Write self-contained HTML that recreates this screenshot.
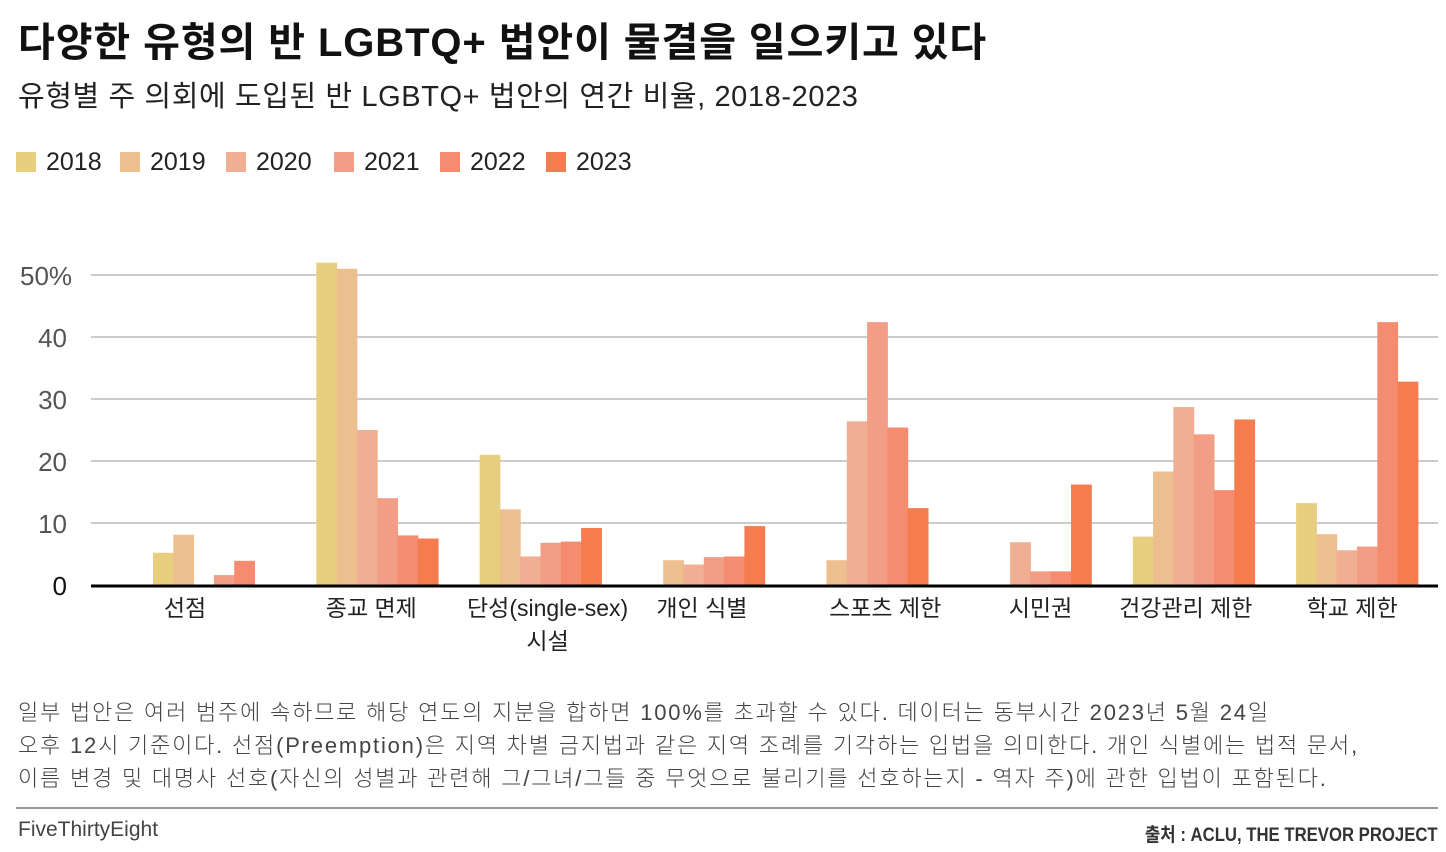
<!DOCTYPE html>
<html><head><meta charset="utf-8">
<style>
html,body{margin:0;padding:0;background:#fff;}
body{width:1446px;height:852px;position:relative;overflow:hidden;font-family:"Liberation Sans","Noto Sans CJK KR",sans-serif;color:#222;}
.abs{position:absolute;white-space:nowrap;}
#title{left:18px;top:10px;font-size:40px;font-weight:bold;color:#111;letter-spacing:0.9px;}
#subtitle{left:18px;top:73px;font-size:29px;color:#222;letter-spacing:0.6px;}
.legend-entry{position:absolute;top:148px;font-size:25px;color:#222;}
.legend-entry span{display:inline-block;width:20px;height:20px;vertical-align:-2px;margin-right:10px;}
#note{left:18px;top:696px;font-size:22px;line-height:33px;color:#444;font-weight:300;white-space:nowrap;letter-spacing:1.8px;}
#rule{left:16px;top:807px;width:1422px;height:2px;background:#999;}
#brand{left:18px;top:818px;font-size:21px;color:#444;}
#source{right:8px;top:820px;font-size:19px;color:#333;font-weight:bold;transform:scaleX(0.88);transform-origin:right center;}
</style></head>
<body>
<div class="abs" id="title">다양한 유형의 반 LGBTQ+ 법안이 물결을 일으키고 있다</div>
<div class="abs" id="subtitle">유형별 주 의회에 도입된 반 LGBTQ+ 법안의 연간 비율, 2018-2023</div>
<div id="legend"></div>
<svg id="chart" width="1446" height="852" style="position:absolute;left:0;top:0"></svg>
<div class="abs" id="note">일부 법안은 여러 범주에 속하므로 해당 연도의 지분을 합하면 100%를 초과할 수 있다. 데이터는 동부시간 2023년 5월 24일<br>오후 12시 기준이다. 선점(Preemption)은 지역 차별 금지법과 같은 지역 조례를 기각하는 입법을 의미한다. 개인 식별에는 법적 문서,<br>이름 변경 및 대명사 선호(자신의 성별과 관련해 그/그녀/그들 중 무엇으로 불리기를 선호하는지 - 역자 주)에 관한 입법이 포함된다.</div>
<div class="abs" id="rule"></div>
<div class="abs" id="brand">FiveThirtyEight</div>
<div class="abs" id="source">출처 : ACLU, THE TREVOR PROJECT</div>
<script>
const categories = ["선점","종교 면제","단성(single-sex)\n시설","개인 식별","스포츠 제한","시민권","건강관리 제한","학교 제한"];
const years = ["2018","2019","2020","2021","2022","2023"];
const v2018 = [5.2,52,21,0,0,0,7.8,13.2];
const v2019 = [8.1,51,12.2,4.0,4.0,0,18.3,8.2];
const v2020 = [0,25,4.6,3.3,26.4,6.9,28.7,5.6];
const v2021 = [1.6,14,6.8,4.5,42.4,2.2,24.3,6.2];
const v2022 = [3.9,8,7,4.6,25.4,2.2,15.3,42.4];
const v2023 = [0,7.5,9.2,9.5,12.4,16.2,26.7,32.8];
const yTicks = [0,10,20,30,40,50];
const yTickLabels = ["0","10","20","30","40","50%"];

const series=[v2018,v2019,v2020,v2021,v2022,v2023];
const colors=["#e8cf7f","#edbe8e","#f0ae92","#f29e87","#f58b6f","#f57c4e"];
const svg=document.getElementById('chart');
const NS='http://www.w3.org/2000/svg';
const x0=91,x1=1438,yBase=585,pxPerUnit=6.2;
const groupStart=153,groupStep=163.3,barW=20.3;
const labelOffset=[32,55,68,59,79,71,53,56];
const y=v=>yBase-v*pxPerUnit;
const xb=(g,s)=>groupStart+g*groupStep+s*barW;
function el(t,a){const e=document.createElementNS(NS,t);for(const k in a)e.setAttribute(k,a[k]);svg.appendChild(e);return e;}
yTicks.forEach((t,i)=>{
  if(t>0){const l=el('line',{x1:x0,x2:x1,y1:y(t),y2:y(t),stroke:'#cccccc','stroke-width':2});
  
  }
  const tx=el('text',{x:i===5?20:67,y:y(t)+10,'font-size':26,fill:i===0?'#111':'#555','font-family':'"Liberation Sans Narrow","Liberation Sans",sans-serif','text-anchor':i===5?'start':'end'});
  tx.textContent=yTickLabels[i];
  
  
});
series.forEach((vals,s)=>{
  vals.forEach((v,g)=>{
    if(v<=0)return;
    const r=el('rect',{x:xb(g,s),y:y(v),width:barW+0.5,height:v*pxPerUnit,fill:colors[s]});
    
    
  });
});
const ax=el('line',{x1:x0,x2:x1,y1:yBase+1,y2:yBase+1,stroke:'#000','stroke-width':3});


categories.forEach((c,g)=>{
  const cx=groupStart+g*groupStep+labelOffset[g];
  c.split('\n').forEach((line,li)=>{
    const t=el('text',{x:cx,y:616+li*33,'font-size':23,fill:'#222','text-anchor':'middle'});
    t.textContent=line;
    
    
  });
});
const legend=document.getElementById('legend');
const legX=[16,120,226,334,440,546];
years.forEach((yr,i)=>{
  const d=document.createElement('div');
  d.className='legend-entry';
  d.style.left=legX[i]+'px';
  d.innerHTML='<span style="background:'+colors[i]+'"></span>'+yr;
  
  
  legend.appendChild(d);
});
</script>
</body></html>
